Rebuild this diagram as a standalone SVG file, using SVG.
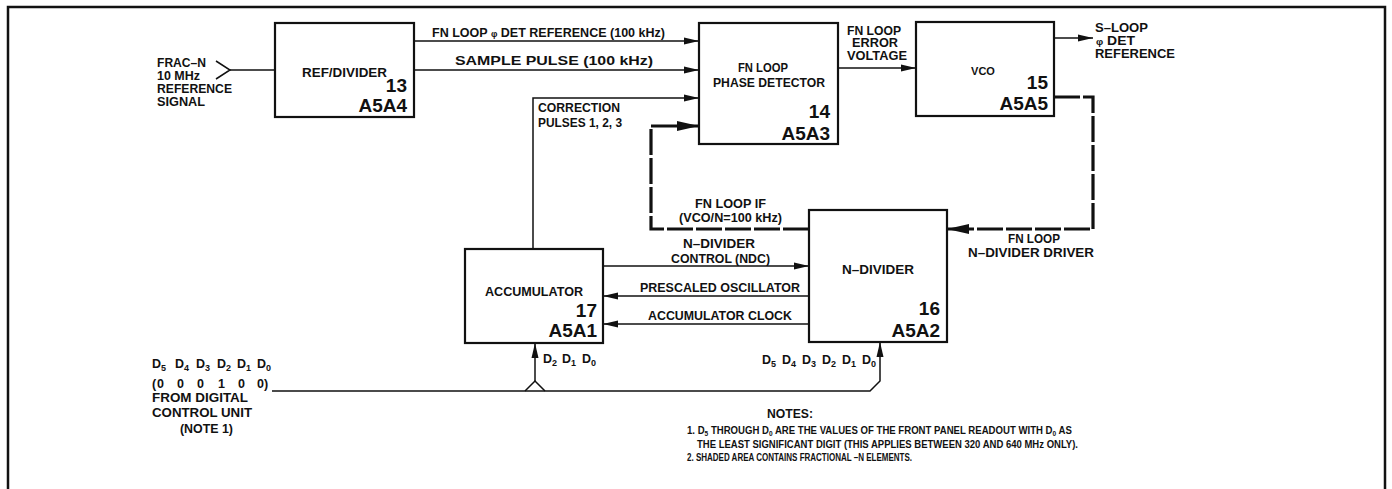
<svg xmlns="http://www.w3.org/2000/svg" width="1392" height="489" viewBox="0 0 1392 489">
<style>
text { font-family: "Liberation Sans", Arial, sans-serif; font-weight: bold; font-size: 12.5px; fill: #111; }
.s { font-size: 11px; text-anchor: middle; }
.note { font-size: 11px; }
.num { font-size: 19px; text-anchor: end; }
.box { fill: #fff; stroke: #111; stroke-width: 2.2; }
.ln { fill: none; stroke: #111; stroke-width: 1.5; }
.thick { fill: none; stroke: #111; stroke-width: 3.2; stroke-dasharray: 26 3; }
.sub { font-size: 9px; }
.nsub { font-size: 7.5px; }
</style>
<defs>
<marker id="a" viewBox="0 0 15 8" refX="15" refY="4" markerWidth="15" markerHeight="8" markerUnits="userSpaceOnUse" orient="auto"><path d="M0,0.5 L15,4 L0,7.5 z" fill="#111"/></marker>
<marker id="b" viewBox="0 0 22 11" refX="22" refY="5.5" markerWidth="22" markerHeight="11" markerUnits="userSpaceOnUse" orient="auto"><path d="M0,0.5 L22,5.5 L0,10.5 z" fill="#111"/></marker>
</defs>
<rect width="1392" height="489" fill="#fff"/>
<path d="M8,489 V7 H1385 V489" fill="none" stroke="#111" stroke-width="2.5"/>

<g id="connectors">
  <path class="ln" d="M216,61 L230,70 L216,79"/>
  <path class="ln" d="M230,70 H275"/>
  <path class="ln" d="M414,41 H699" marker-end="url(#a)"/>
  <path class="ln" d="M414,70 H699" marker-end="url(#a)"/>
  <path class="ln" d="M533,249 V98 H699" marker-end="url(#a)"/>
  <path class="thick" d="M809,229 H651 V126 H699" marker-end="url(#b)"/>
  <path class="ln" d="M838,68 H916" marker-end="url(#a)"/>
  <path class="ln" d="M1054,38 H1093" marker-end="url(#a)"/>
  <path class="thick" d="M1054,97 H1093 V229 H947" marker-end="url(#b)"/>
  <path class="ln" d="M603,266 H809" marker-end="url(#a)"/>
  <path class="ln" d="M809,296 H603" marker-end="url(#a)"/>
  <path class="ln" d="M809,324 H603" marker-end="url(#a)"/>
  <path class="ln" d="M272,391 H870 L880,381 V342" marker-end="url(#a)"/>
  <path class="ln" d="M525,391 L535,381 L545,391"/>
  <path class="ln" d="M535,381 V343" marker-end="url(#a)"/>
</g>

<g id="labels">
  <text x="157" y="67" textLength="49" lengthAdjust="spacingAndGlyphs">FRAC–N</text>
  <text x="157" y="80" textLength="43" lengthAdjust="spacingAndGlyphs">10 MHz</text>
  <text x="157" y="93" textLength="75" lengthAdjust="spacingAndGlyphs">REFERENCE</text>
  <text x="157" y="106" textLength="48" lengthAdjust="spacingAndGlyphs">SIGNAL</text>

  <text x="432" y="37" textLength="233" lengthAdjust="spacingAndGlyphs">FN LOOP <tspan font-size="9">φ</tspan> DET REFERENCE (100 kHz)</text>
  <text x="455" y="65" textLength="198" lengthAdjust="spacingAndGlyphs">SAMPLE PULSE (100 kHz)</text>
  <text x="538" y="112" textLength="82" lengthAdjust="spacingAndGlyphs">CORRECTION</text>
  <text x="538" y="127" textLength="84" lengthAdjust="spacingAndGlyphs">PULSES 1, 2, 3</text>

  <text x="847" y="35" textLength="54" lengthAdjust="spacingAndGlyphs">FN LOOP</text>
  <text x="852" y="47" textLength="46" lengthAdjust="spacingAndGlyphs">ERROR</text>
  <text x="847" y="60" textLength="60" lengthAdjust="spacingAndGlyphs">VOLTAGE</text>

  <text x="1095" y="32" textLength="53" lengthAdjust="spacingAndGlyphs">S–LOOP</text>
  <text x="1096" y="45" textLength="39" lengthAdjust="spacingAndGlyphs"><tspan font-size="9">φ</tspan> DET</text>
  <text x="1095" y="58" textLength="80" lengthAdjust="spacingAndGlyphs">REFERENCE</text>

  <text x="695" y="208" textLength="71" lengthAdjust="spacingAndGlyphs">FN LOOP IF</text>
  <text x="679" y="222" textLength="103" lengthAdjust="spacingAndGlyphs">(VCO/N=100 kHz)</text>

  <text x="683" y="248" textLength="72" lengthAdjust="spacingAndGlyphs">N–DIVIDER</text>
  <text x="671" y="263" textLength="99" lengthAdjust="spacingAndGlyphs">CONTROL (NDC)</text>
  <text x="640" y="292" textLength="160" lengthAdjust="spacingAndGlyphs">PRESCALED OSCILLATOR</text>
  <text x="648" y="320" textLength="144" lengthAdjust="spacingAndGlyphs">ACCUMULATOR CLOCK</text>

  <text x="1008" y="243" textLength="52" lengthAdjust="spacingAndGlyphs">FN LOOP</text>
  <text x="968" y="257" textLength="126" lengthAdjust="spacingAndGlyphs">N–DIVIDER DRIVER</text>

  <text><tspan x="543" y="363">D</tspan><tspan class="sub" dy="3">2</tspan><tspan x="562" y="363">D</tspan><tspan class="sub" dy="3">1</tspan><tspan x="582" y="363">D</tspan><tspan class="sub" dy="3">0</tspan></text>
  <text><tspan x="762" y="364">D</tspan><tspan class="sub" dy="3">5</tspan><tspan x="782" y="364">D</tspan><tspan class="sub" dy="3">4</tspan><tspan x="802" y="364">D</tspan><tspan class="sub" dy="3">3</tspan><tspan x="822" y="364">D</tspan><tspan class="sub" dy="3">2</tspan><tspan x="842" y="364">D</tspan><tspan class="sub" dy="3">1</tspan><tspan x="862" y="364">D</tspan><tspan class="sub" dy="3">0</tspan></text>

  <text><tspan x="152" y="368">D</tspan><tspan class="sub" dy="3">5</tspan><tspan x="175" y="368">D</tspan><tspan class="sub" dy="3">4</tspan><tspan x="196" y="368">D</tspan><tspan class="sub" dy="3">3</tspan><tspan x="217" y="368">D</tspan><tspan class="sub" dy="3">2</tspan><tspan x="237" y="368">D</tspan><tspan class="sub" dy="3">1</tspan><tspan x="257" y="368">D</tspan><tspan class="sub" dy="3">0</tspan></text>
  <text y="388"><tspan x="152">(</tspan><tspan x="157">0</tspan><tspan x="177">0</tspan><tspan x="197">0</tspan><tspan x="218">1</tspan><tspan x="238">0</tspan><tspan x="257">0)</tspan></text>
  <text x="152" y="402" textLength="96" lengthAdjust="spacingAndGlyphs">FROM DIGITAL</text>
  <text x="152" y="417" textLength="100" lengthAdjust="spacingAndGlyphs">CONTROL UNIT</text>
  <text x="180" y="433" textLength="53" lengthAdjust="spacingAndGlyphs">(NOTE 1)</text>

  <text x="767" y="418" textLength="46" lengthAdjust="spacingAndGlyphs">NOTES:</text>
  <text class="note" transform="translate(687,434) scale(0.873,1)">1. D<tspan class="nsub" dy="1.5">5</tspan><tspan dy="-1.5"> THROUGH D</tspan><tspan class="nsub" dy="1.5">0</tspan><tspan dy="-1.5"> ARE THE VALUES OF THE FRONT PANEL READOUT WITH D</tspan><tspan class="nsub" dy="1.5">0</tspan><tspan dy="-1.5"> AS</tspan></text>
  <text class="note" x="697" y="448" textLength="381" lengthAdjust="spacingAndGlyphs">THE LEAST SIGNIFICANT DIGIT (THIS APPLIES BETWEEN 320 AND 640 MHz ONLY).</text>
  <text class="note" x="687" y="461" textLength="225" lengthAdjust="spacingAndGlyphs">2. SHADED AREA CONTAINS FRACTIONAL –N ELEMENTS.</text>
</g>

<g id="ref-divider">
  <rect class="box" x="275" y="23" width="139" height="94"/>
  <text x="302" y="77" textLength="85" lengthAdjust="spacingAndGlyphs">REF/DIVIDER</text>
  <text class="num" x="407" y="92">13</text>
  <text class="num" x="407" y="112">A5A4</text>
</g>

<g id="phase-detector">
  <rect class="box" x="699" y="23" width="139" height="121"/>
  <text x="738" y="72" textLength="50" lengthAdjust="spacingAndGlyphs">FN LOOP</text>
  <text x="713" y="87" textLength="112" lengthAdjust="spacingAndGlyphs">PHASE DETECTOR</text>
  <text class="num" x="830" y="118">14</text>
  <text class="num" x="830" y="140">A5A3</text>
</g>

<g id="vco">
  <rect class="box" x="916" y="22" width="138" height="94"/>
  <text class="s" x="983" y="75">VCO</text>
  <text class="num" x="1048" y="89">15</text>
  <text class="num" x="1048" y="110">A5A5</text>
</g>

<g id="n-divider">
  <rect class="box" x="809" y="210" width="138" height="132"/>
  <text x="842" y="274" textLength="72" lengthAdjust="spacingAndGlyphs">N–DIVIDER</text>
  <text class="num" x="940" y="315">16</text>
  <text class="num" x="940" y="337">A5A2</text>
</g>

<g id="accumulator">
  <rect class="box" x="465" y="249" width="138" height="94"/>
  <text x="485" y="296" textLength="98" lengthAdjust="spacingAndGlyphs">ACCUMULATOR</text>
  <text class="num" x="597" y="317">17</text>
  <text class="num" x="597" y="337">A5A1</text>
</g>
</svg>
